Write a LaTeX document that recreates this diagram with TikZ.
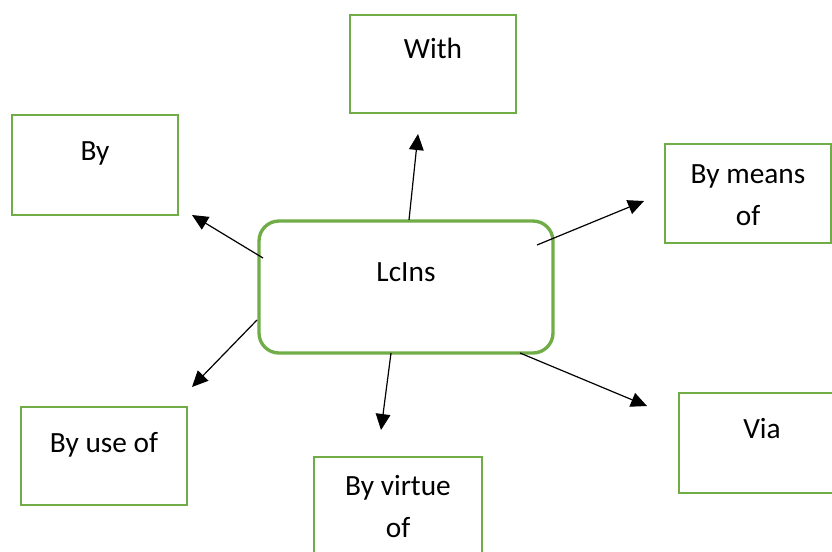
\documentclass[tikz,border=0pt]{standalone}
\usepackage{fontspec}
\setmainfont{Carlito}
\usepackage{tikz}
\usetikzlibrary{arrows.meta}
\usetikzlibrary{calc}
\usetikzlibrary{positioning}
\definecolor{boxgreen}{RGB}{112,173,71}
\newlength\pxu
\setlength\pxu{0.75pt}
\newcommand{\boxtext}[4]{\parbox[c][#2\pxu][t]{#1\pxu}{\centering\rule{0pt}{#3\pxu}#4}}
\tikzstyle{block} = [draw=boxgreen, line width=2.2pt, fill=white, inner sep=0pt, outer sep=0pt]
\tikzstyle{hub} = [block, rounded corners=15pt, line width=2.5pt]
\tikzstyle{connector} = [draw, line width=0.9pt, -{Triangle[length=12pt,width=11pt]}]

\begin{document}
\begin{tikzpicture}[x=0.75pt, y=-0.75pt, font=\fontsize{22pt}{31.5pt}\selectfont]
    \useasboundingbox (0,0) rectangle (832,551);

    \node [hub, name=lcins] at (406,287) {\boxtext{294}{132}{60}{LcIns}};
    \node [block, name=with] at (433,64) {\boxtext{166}{98}{43}{With}};
    \node [block, name=by] at (95,165) {\boxtext{166}{100}{45}{By}};
    \node [block, name=bymeans] at (748,193.5) {\boxtext{166}{99}{39}{By means\\of}};
    \node [block, name=byuse] at (104,456) {\boxtext{166}{98}{45}{By use of}};
    \node [block, name=byvirtue] at (398,507) {\boxtext{168}{100}{38}{By virtue\\of}};
    \node [block, name=via] at (762,443) {\boxtext{166}{100}{45}{Via}};

    \draw [connector] ($(lcins.center)+(3,-67)$) -- ($(with.south)+(-15,21)$);
    \draw [connector] ($(lcins.center)+(-143,-29)$) -- ($(by.south east)+(14,0)$);
    \draw [connector] ($(lcins.center)+(131,-42)$) -- ($(bymeans.west)+(-21,7.5)$);
    \draw [connector] ($(lcins.center)+(-149,33)$) -- ($(byuse.north east)+(5,-20)$);
    \draw [connector] ($(lcins.center)+(-15,66)$) -- ($(byvirtue.north)+(-17,-27)$);
    \draw [connector] ($(lcins.center)+(114,66)$) -- ($(via.west)+(-32,-37)$);
\end{tikzpicture}
\end{document}
